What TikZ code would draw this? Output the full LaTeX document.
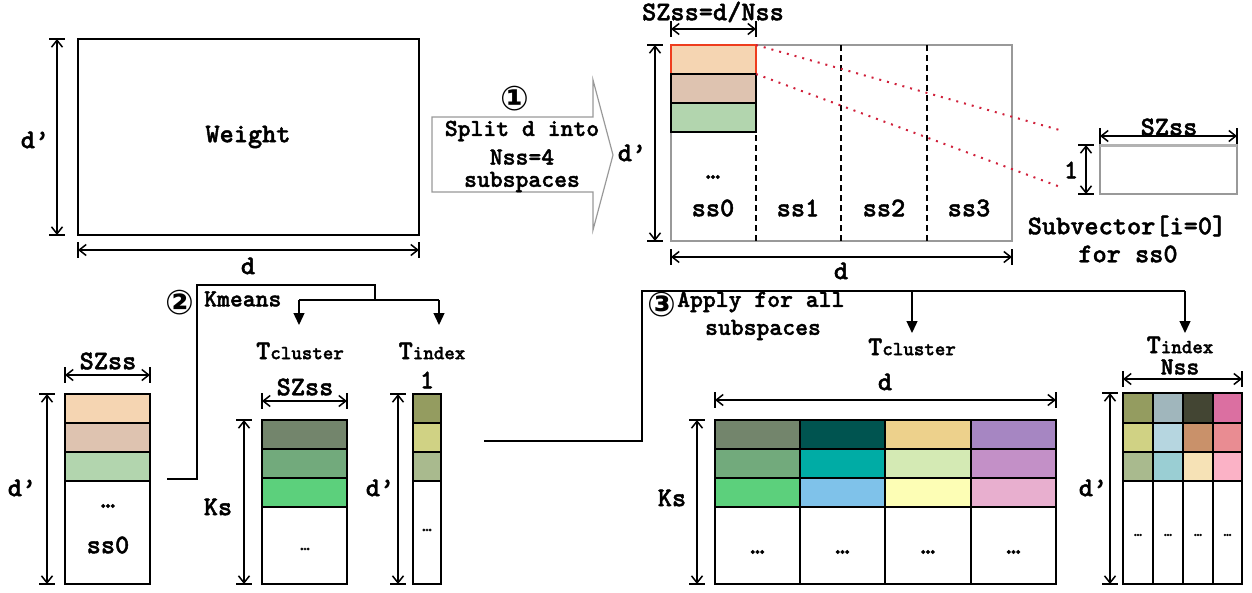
\documentclass[tikz,border=0pt]{standalone}
\usepackage{fontspec}
\usetikzlibrary{arrows.meta,calc}
\newfontfamily\cmono{lmmonolt10-bold.otf}[FakeBold=1.6]
\newfontfamily\circfont{DejaVu Sans}

% palette
\definecolor{peach}{HTML}{F5D5B2}
\definecolor{tan}{HTML}{DEC3B0}
\definecolor{sage}{HTML}{B2D5AE}
\definecolor{cA1}{HTML}{73856C}
\definecolor{cA2}{HTML}{72AA7C}
\definecolor{cA3}{HTML}{5CD07C}
\definecolor{cB1}{HTML}{005450}
\definecolor{cB2}{HTML}{00ACA5}
\definecolor{cB3}{HTML}{7FC2EA}
\definecolor{cC1}{HTML}{EDD18C}
\definecolor{cC2}{HTML}{D4EAB4}
\definecolor{cC3}{HTML}{FDFEB5}
\definecolor{cD1}{HTML}{A686C2}
\definecolor{cD2}{HTML}{C390C7}
\definecolor{cD3}{HTML}{E8AFCF}
\definecolor{iA1}{HTML}{949C60}
\definecolor{iA2}{HTML}{D0D284}
\definecolor{iA3}{HTML}{A9BA8E}
\definecolor{iB1}{HTML}{A0B6BC}
\definecolor{iB2}{HTML}{B6D6E0}
\definecolor{iB3}{HTML}{9ACED3}
\definecolor{iC1}{HTML}{434533}
\definecolor{iC2}{HTML}{C9916A}
\definecolor{iC3}{HTML}{F6E2B6}
\definecolor{iD1}{HTML}{DB6FA1}
\definecolor{iD2}{HTML}{E98C92}
\definecolor{iD3}{HTML}{FBB2C6}
\definecolor{frame}{HTML}{999999}
\definecolor{linkred}{HTML}{D0203A}
\definecolor{hilite}{HTML}{EE3D1E}

\tikzset{
  lbl/.style={font=\cmono\fontsize{27}{30}\selectfont, inner sep=0pt},
  lblm/.style={font=\cmono\fontsize{24.5}{27}\selectfont, inner sep=0pt},
  lbls/.style={font=\cmono\fontsize{18}{20}\selectfont, inner sep=0pt},
  circ/.style={font=\circfont\bfseries\fontsize{34}{36}\selectfont, inner sep=0pt},
  blk/.style={draw=black, line width=1.5pt},
  gry/.style={draw=frame, line width=1.3pt},
  dimline/.style={line width=1.5pt,
    {Straight Barb[length=7pt,width=11pt]}-{Straight Barb[length=7pt,width=11pt]}},
  dimbar/.style={line width=1.5pt},
  flow/.style={line width=1.3pt, -{Triangle[length=12pt,width=11pt]}},
  link/.style={line width=1.3pt},
  redlink/.style={draw=linkred, line width=2pt, dash pattern=on 2pt off 6pt},
  sep/.style={line width=1.3pt, dash pattern=on 6pt off 4pt},
}

% horizontal dimension: x1, x2, y
\newcommand\hdim[3]{%
  \draw[dimbar] (#1,#3-8) -- (#1,#3+8) (#2,#3-8) -- (#2,#3+8);
  \draw[dimline] (#1,#3) -- (#2,#3);}
% vertical dimension: x, y1, y2
\newcommand\vdim[3]{%
  \draw[dimbar] (#1-8,#2) -- (#1+8,#2) (#1-8,#3) -- (#1+8,#3);
  \draw[dimline] (#1,#2) -- (#1,#3);}
% filled cell: x1, y1, x2, y2, colour
\newcommand\cell[5]{\filldraw[blk, fill=#5] (#1,#2) rectangle (#3,#4);}
% big initial letter followed by a smaller tail
\newcommand\tname[1]{T\fontsize{20}{22}\selectfont #1}

\begin{document}
\begin{tikzpicture}[x=1pt, y=-1pt]
\useasboundingbox (0,0) rectangle (1252,592);

% ---------------- weight matrix ----------------
\draw[blk, line width=1.3pt] (78,39) rectangle (419,235);
\node[lbl] (wlabel) at (248,137) {Weight};
\vdim{57}{39}{235}
\node[lbl] (wdp) at (35,140) {d’};
\hdim{78}{419}{250}
\node[lbl] (wd) at (248,266) {d};

% ---------------- step 1 arrow ----------------
\draw[gry, fill=white, line width=1.2pt]
  (432,117) -- (593,117) -- (593,80) -- (613,155) -- (593,230)
  -- (593,192) -- (432,192) -- cycle;
\node[circ] (one) at (515,99) {①};
\node[lblm] (split1) at (522,131) {Split d into};
\node[lblm] (split2) at (522,157) {Nss=4};
\node[lblm] (split3) at (522,182) {subspaces};

% ---------------- split matrix ----------------
\draw[gry] (671,45) rectangle (1012,241);
\foreach \xs in {756,841,927} \draw[sep] (\xs,45) -- (\xs,241);
\filldraw[draw=hilite, line width=1.5pt, fill=peach] (671,45) rectangle (756,74);
\cell{671}{74}{756}{103}{tan}
\cell{671}{103}{756}{132}{sage}
\node[lbl] (sdots) at (713,177) {…};
\node[lbl] (ss0) at (713,208) {ss0};
\node[lbl] (ss1) at (798,208) {ss1};
\node[lbl] (ss2) at (884,208) {ss2};
\node[lbl] (ss3) at (969,208) {ss3};
\vdim{655}{45}{241}
\node[lbl] (sdp) at (632,153) {d’};
\hdim{671}{756}{29}
\node[lbl] (szeq) at (713,12) {SZss=d/Nss};
\hdim{671}{1012}{257}
\node[lbl] (sd) at (841,271) {d};

% ---------------- sub-vector ----------------
\coordinate (cA) at (756,45);
\coordinate (cB) at (756,74);
\coordinate (vA) at (1063,131);
\coordinate (vB) at (1063,188);
\draw[redlink] (cA) -- (vA);
\draw[redlink] (cB) -- (vB);
\draw[gry] (1100,145) rectangle (1237,194);
\draw[draw=black!30, line width=3pt] (1100,145) -- (1237,145);
\hdim{1100}{1237}{136}
\node[lbl] (vsz) at (1169,127) {SZss};
\vdim{1086}{145}{194}
\node[lbl] (vone) at (1071,170) {1};
\node[lbl] (vcap1) at (1127,226) {Subvector[i=0]};
\node[lbl] (vcap2) at (1128,254) {for ss0};

% ---------------- subspace 0 column ----------------
\draw[blk] (65,394) rectangle (150,584);
\cell{65}{394}{150}{423}{peach}
\cell{65}{423}{150}{452}{tan}
\cell{65}{452}{150}{481}{sage}
\node[lbl] (cdots) at (108,506) {…};
\node[lbl] (css0) at (108,545) {ss0};
\hdim{65}{150}{375}
\node[lbl] (csz) at (108,361) {SZss};
\vdim{47}{394}{584}
\node[lbl] (cdp) at (22,488) {d’};

% ---------------- step 2: k-means ----------------
\coordinate (k0) at (167,479);
\coordinate (k1) at (197,479);
\coordinate (k2) at (197,285);
\coordinate (k3) at (375,285);
\coordinate (k4) at (375,300);
\coordinate (kl) at (299,300);
\coordinate (kr) at (439,300);
\draw[link] (k0) -- (k1) -- (k2) -- (k3) -- (k4);
\draw[link] (kl) -- (kr);
\node[circ] (two) at (180,303) {②};
\node[lblm, anchor=west] (kmeans) at (204,299) {Kmeans};
\node[lbl] (tcl) at (300,351) {\tname{cluster}};
\node[lbl] (tix) at (432,351) {\tname{index}};
\draw[flow] (kl) -- (kl |- 0,325);
\draw[flow] (kr) -- (kr |- 0,325);

% codebook of subspace 0
\draw[blk] (262,420) rectangle (347,584);
\cell{262}{420}{347}{449}{cA1}
\cell{262}{449}{347}{478}{cA2}
\cell{262}{478}{347}{507}{cA3}
\node[lbls] (tdots) at (305,549) {…};
\hdim{262}{347}{401}
\node[lbl] (tsz) at (305,387) {SZss};
\vdim{244}{420}{584}
\node[lbl] (tks) at (218,507) {Ks};

% index column of subspace 0
\draw[blk] (413,394) rectangle (441,584);
\cell{413}{394}{441}{423}{iA1}
\cell{413}{423}{441}{452}{iA2}
\cell{413}{452}{441}{481}{iA3}
\node[lbls] (idots) at (427,530) {…};
\node[lbl] (ione) at (427,380) {1};
\vdim{398}{394}{584}
\node[lbl] (idp) at (380,488) {d’};

% ---------------- step 3: all subspaces ----------------
\coordinate (a0) at (484,441);
\coordinate (a1) at (642,441);
\coordinate (a2) at (642,291);
\coordinate (a3) at (1185,291);
\coordinate (al) at (912,291);
\draw[link] (a0) -- (a1) -- (a2) -- (a3);
\draw[flow] (al) -- (al |- 0,333);
\draw[flow] (a3) -- (a3 |- 0,333);
\node[circ] (three) at (662,305) {③};
\node[lblm, anchor=west] (apply1) at (677,302) {Apply for all};
\node[lblm] (apply2) at (763,330) {subspaces};
\node[lbl] (Tcl) at (912,347) {\tname{cluster}};
\node[lbl] (Tix) at (1180,345) {\tname{index}};

% full codebook
\draw[blk] (715,420) rectangle (1056,584);
\foreach \xa/\xb/\c in {715/800/A,800/885/B,885/971/C,971/1056/D}{
  \cell{\xa}{420}{\xb}{449}{c\c1}
  \cell{\xa}{449}{\xb}{478}{c\c2}
  \cell{\xa}{478}{\xb}{507}{c\c3}
  \draw[blk] (\xa,507) rectangle (\xb,584);
  \node[lbl] at ({(\xa+\xb)/2},552) {…};
}
\hdim{715}{1056}{400}
\node[lbl] (Td) at (885,382) {d};
\vdim{697}{420}{584}
\node[lbl] (Tks) at (672,498) {Ks};

% full index table
\foreach \xa/\xb/\c in {1123/1153/A,1153/1183/B,1183/1213/C,1213/1242/D}{
  \cell{\xa}{393}{\xb}{423}{i\c1}
  \cell{\xa}{423}{\xb}{452}{i\c2}
  \cell{\xa}{452}{\xb}{481}{i\c3}
  \draw[blk] (\xa,481) rectangle (\xb,584);
  \node[font=\cmono\fontsize{15}{16}\selectfont, inner sep=0pt]
    at ({(\xa+\xb)/2},535) {…};
}
\hdim{1123}{1242}{379}
\node[lblm] (Inss) at (1180,367) {Nss};
\vdim{1110}{393}{584}
\node[lbl] (Idp) at (1093,488) {d’};

\end{tikzpicture}
\end{document}
